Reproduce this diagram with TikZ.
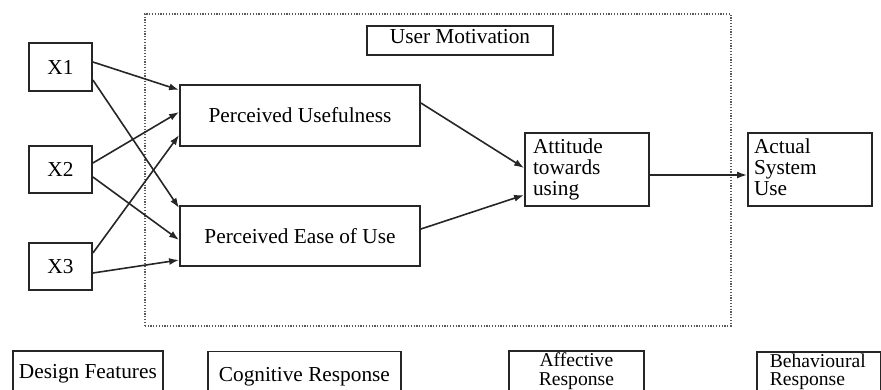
\documentclass[tikz,border=0pt]{standalone}
\usepackage{fontspec}
\setmainfont{Liberation Serif}
\usetikzlibrary{arrows.meta}
\newcommand\mainfnt{\fontsize{21.3}{21}\selectfont}
\newcommand\smallfnt{\fontsize{19.6}{18.5}\selectfont}
\begin{document}
\begin{tikzpicture}[x=1pt,y=-1pt,
  boxbase/.style={draw=black!85, line width=1.8pt, inner sep=0pt, font=\mainfnt},
  onebox/.style={boxbase, text height=14pt, text depth=0pt},
  arr/.style={line width=1.6pt, draw=black!85, -{Latex[length=10pt,width=7pt]}},
  dotbox/.style={draw=black!65, line width=1.5pt, dash pattern=on 1.2pt off 1.6pt}]
\useasboundingbox (0,0) rectangle (881,389);
\clip (0,0) rectangle (881,389);

% motivation region
\node[dotbox, anchor=north west, minimum width=586pt, minimum height=312pt, inner sep=0pt] (region) at (144,13) {};
\node[onebox, minimum width=186pt, minimum height=29pt, text depth=9pt] (um) at (460,40.5) {User Motivation};

% design features
\node[onebox, minimum width=63pt, minimum height=48pt] (x1) at (60.5,67) {X1};
\node[onebox, minimum width=63pt, minimum height=47pt] (x2) at (60.5,169.5) {X2};
\node[onebox, minimum width=63pt, minimum height=47pt] (x3) at (60.5,266.5) {X3};

% cognitive
\node[onebox, minimum width=240pt, minimum height=61pt] (pu) at (300,115.5) {Perceived Usefulness};
\node[onebox, minimum width=240pt, minimum height=60pt] (peou) at (300,236) {Perceived Ease of Use};

% affective / behavioural
\node[boxbase, minimum height=73pt, text width=108pt, inner xsep=8pt, align=left] (att) at (587,169.5) {Attitude\\towards\\using};
\node[boxbase, minimum height=73pt, text width=112pt, inner xsep=6pt, align=left] (actual) at (810,169.5) {Actual\\System\\Use\vphantom{g}};

% arrows
\draw[arr] ([yshift=5pt]x1.east) -- ([yshift=25.5pt]pu.west);
\draw[arr] ([yshift=-13pt]x1.east) -- ([yshift=28pt]peou.west);
\draw[arr] ([yshift=6.5pt]x2.east) -- ([yshift=3.5pt]pu.west);
\draw[arr] ([yshift=-7.5pt]x2.east) -- ([yshift=-4pt]peou.west);
\draw[arr] ([yshift=13.5pt]x3.east) -- ([yshift=-19.5pt]pu.west);
\draw[arr] ([yshift=-6.5pt]x3.east) -- ([yshift=-24pt]peou.west);
\draw[arr] ([yshift=12.5pt]pu.east) -- ([yshift=1.5pt]att.west);
\draw[arr] ([yshift=7pt]peou.east) -- ([yshift=-25.5pt]att.west);
\draw[arr] ([yshift=-5.5pt]att.east) -- ([yshift=-5.5pt]actual.west);

% bottom legend
\node[onebox, anchor=north west, minimum width=150pt, minimum height=42pt] (design) at (12,350) {Design Features};
\node[onebox, anchor=north west, minimum width=193pt, minimum height=47pt] (cog) at (207,350.5) {Cognitive Response};
\node[boxbase, font=\smallfnt, anchor=north west, minimum width=135pt, minimum height=41pt, align=center] (aff) at (508,350) {Affective\\Response};
\node[boxbase, font=\smallfnt, anchor=north west, minimum height=39.5pt, text width=98pt, inner xsep=13pt, align=left] (beh) at (756,351) {Behavioural\\Response};
\end{tikzpicture}
\end{document}
